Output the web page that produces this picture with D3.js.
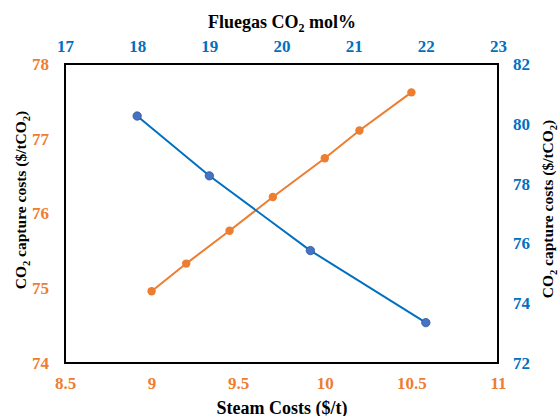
<!DOCTYPE html>
<html>
<head>
<meta charset="utf-8">
<script src="https://cdn.jsdelivr.net/npm/d3@7"></script>
<style>
  body { margin: 0; background: #fff; }
  text { font-family: "Liberation Serif", "Times New Roman", serif; font-weight: bold; }
</style>
</head>
<body>
<div id="chart"></div>
<script>
// steam cost series (bottom / left axes)
var steamCost = [9.0, 9.2, 9.45, 9.7, 10.0, 10.2, 10.5];
var steamCapture = [74.96, 75.33, 75.77, 76.22, 76.74, 77.11, 77.62];

// flue gas series (top / right axes)
var fluegasCO2 = [18, 19, 20.4, 22];
var fluegasCapture = [80.26, 78.26, 75.76, 73.35];

var bottomTicks = [8.5, 9, 9.5, 10, 10.5, 11];
var topTicks = [17, 18, 19, 20, 21, 22, 23];
var leftTicks = [74, 75, 76, 77, 78];
var rightTicks = [72, 74, 76, 78, 80, 82];

var orange = "#ED7D31";
var blue = "#0070C0";
var blueDot = "#4472C4";

var width = 558, height = 416;
var plotLeft = 65, plotRight = 498, plotTop = 64, plotBottom = 363;

var svg = d3.select("#chart").append("svg")
  .attr("width", width)
  .attr("height", height);

var x = d3.scaleLinear().domain([8.5, 11]).range([plotLeft, plotRight]);
var x2 = d3.scaleLinear().domain([17, 23]).range([plotLeft, plotRight]);
var y = d3.scaleLinear().domain([74, 78]).range([plotBottom, plotTop]);
var y2 = d3.scaleLinear().domain([72, 82]).range([plotBottom, plotTop]);

function styleAxis(g, color) {
  g.attr("font-family", "Liberation Serif").attr("font-size", 17);
  g.select(".domain").remove();
  g.selectAll("line").remove();
  g.selectAll("text")
    .attr("fill", color)
    .style("font-family", "'Liberation Serif', serif")
    .style("font-size", "17px")
    .style("font-weight", "bold");
}

var fmt = d3.format("");

svg.append("g")
  .attr("transform", "translate(0," + (plotBottom + 11) + ")")
  .call(d3.axisBottom(x).tickValues(bottomTicks).tickSize(0).tickFormat(fmt))
  .call(styleAxis, orange);

svg.append("g")
  .attr("transform", "translate(0," + (plotTop - 9) + ")")
  .call(d3.axisTop(x2).tickValues(topTicks).tickSize(0).tickFormat(fmt))
  .call(styleAxis, blue);

svg.append("g")
  .attr("transform", "translate(" + (plotLeft - 13) + ",0)")
  .call(d3.axisLeft(y).tickValues(leftTicks).tickSize(0).tickFormat(fmt))
  .call(styleAxis, orange);

svg.append("g")
  .attr("transform", "translate(" + (plotRight + 12) + ",0)")
  .call(d3.axisRight(y2).tickValues(rightTicks).tickSize(0).tickFormat(fmt))
  .call(styleAxis, blue);

// plot box
svg.append("rect")
  .attr("x", plotLeft)
  .attr("y", plotTop)
  .attr("width", plotRight - plotLeft)
  .attr("height", plotBottom - plotTop)
  .attr("fill", "none")
  .attr("stroke", "#000")
  .attr("stroke-width", 2);

// orange series
var steamData = steamCost.map(function(d, i) { return [d, steamCapture[i]]; });
svg.append("path")
  .datum(steamData)
  .attr("fill", "none")
  .attr("stroke", orange)
  .attr("stroke-width", 2)
  .attr("d", d3.line().x(function(d) { return x(d[0]); }).y(function(d) { return y(d[1]); }));
svg.selectAll(".od").data(steamData).enter().append("circle")
  .attr("cx", function(d) { return x(d[0]); })
  .attr("cy", function(d) { return y(d[1]); })
  .attr("r", 4.2)
  .attr("fill", orange);

// blue series
var gasData = fluegasCO2.map(function(d, i) { return [d, fluegasCapture[i]]; });
svg.append("path")
  .datum(gasData)
  .attr("fill", "none")
  .attr("stroke", blue)
  .attr("stroke-width", 2)
  .attr("d", d3.line().x(function(d) { return x2(d[0]); }).y(function(d) { return y2(d[1]); }));
svg.selectAll(".bd").data(gasData).enter().append("circle")
  .attr("cx", function(d) { return x2(d[0]); })
  .attr("cy", function(d) { return y2(d[1]); })
  .attr("r", 4.2)
  .attr("fill", blueDot)
  .attr("stroke", "#2F5597")
  .attr("stroke-width", 0.8);

// titles
svg.append("text")
  .attr("x", 282)
  .attr("y", 414)
  .attr("text-anchor", "middle")
  .style("font-size", "18px")
  .text("Steam Costs ($/t)");

var t = svg.append("text")
  .attr("x", 282)
  .attr("y", 28)
  .attr("text-anchor", "middle")
  .style("font-size", "18px");
t.append("tspan").text("Fluegas CO");
t.append("tspan").attr("dy", 4).style("font-size", "12px").text("2");
t.append("tspan").attr("dy", -4).text(" mol%");

function yTitle(cx, cy) {
  var tt = svg.append("text")
    .attr("transform", "translate(" + cx + "," + cy + ") rotate(-90)")
    .attr("text-anchor", "middle")
    .style("font-size", "15.5px");
  tt.append("tspan").text("CO");
  tt.append("tspan").attr("dy", 4).style("font-size", "10.5px").text("2");
  tt.append("tspan").attr("dy", -4).text(" capture costs ($/tCO");
  tt.append("tspan").attr("dy", 4).style("font-size", "10.5px").text("2");
  tt.append("tspan").attr("dy", -4).text(")");
}
yTitle(26, 200);
yTitle(553, 209);
</script>
</body>
</html>
